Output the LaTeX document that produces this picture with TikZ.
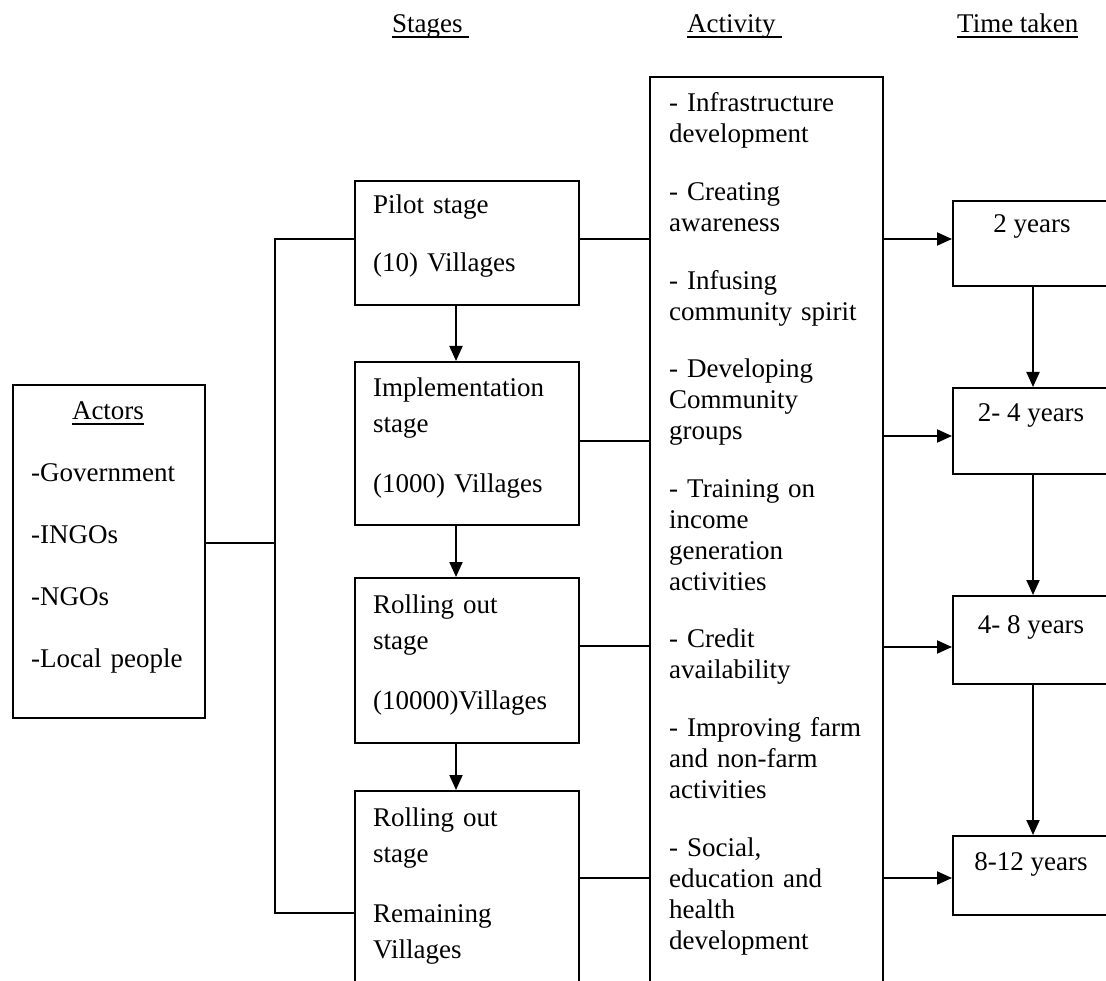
\documentclass[tikz,border=0pt]{standalone}
\usepackage{fontspec}
\setmainfont{Liberation Serif}
\usetikzlibrary{arrows.meta}
\newcommand{\hdline}[1]{\setbox0\hbox{#1}\rlap{\rule[-5.5pt]{\wd0}{2pt}}\box0}
\tikzset{
    frame/.style={draw, line width=2pt, inner sep=0pt, anchor=north west},
    head/.style={inner sep=0pt, font=\fontsize{27}{31}\selectfont},
    stagetext/.style={anchor=base west, inner sep=0pt, text width=200pt, align=left, font=\fontsize{27}{36}\selectfont},
    acttext/.style={anchor=base west, inner sep=0pt, text width=210pt, align=left, font=\fontsize{27}{31}\selectfont},
    link/.style={line width=2pt},
    flow/.style={line width=2pt, -{Triangle[length=15pt,width=13pt]}}
}
\begin{document}
\begin{tikzpicture}
  [
    x = 1pt,
    y = -1pt,
  ]
  \useasboundingbox (0,0) rectangle (1106,981);
  \clip (0,0) rectangle (1106,981);

  \node[head, anchor=base west] (hstages) at (392,33) {\hdline{Stages\ }};
  \node[head, anchor=base west] (hactivity) at (687,33) {\hdline{Activity\ }};
  \node[head, anchor=base west] (htime) at (957,33) {\hdline{Time taken}};

  \node[frame, minimum width=192pt, minimum height=333pt] (actors) at (12,384) {};
  \node[head, anchor=base] (actorshead) at (108,420) {\hdline{Actors}};
  \node[stagetext, font=\fontsize{27}{61.7}\selectfont] (actorslist) at (31,482)
    {-Government\\-INGOs\\-NGOs\\-Local people};

  \node[frame, minimum width=224pt, minimum height=124pt] (pilot) at (354,180) {};
  \node[frame, minimum width=224pt, minimum height=163pt] (impl) at (354,361) {};
  \node[frame, minimum width=224pt, minimum height=165pt] (roll) at (354,577) {};
  \node[frame, minimum width=224pt, minimum height=240pt] (rollrest) at (354,790) {};
  \node[stagetext] (pilottext) at (373,214) {Pilot stage\\[22pt](10) Villages};
  \node[stagetext] (impltext) at (373,397) {Implementation\\stage\\[24pt](1000) Villages};
  \node[stagetext] (rolltext) at (373,613) {Rolling out\\stage\\[24pt](10000)Villages};
  \node[stagetext] (rollresttext) at (373,826) {Rolling out\\stage\\[24pt]Remaining\\Villages};

  \node[frame, minimum width=233pt, minimum height=950pt] (act) at (649,76) {};
  \node[acttext] (acttext) at (669,112)
    {- Infrastructure\\development\\[26.6pt]%
     - Creating\\awareness\\[26.6pt]%
     - Infusing\\community spirit\\[26.6pt]%
     - Developing\\Community\\groups\\[26.6pt]%
     - Training on\\income\\generation\\activities\\[26.6pt]%
     - Credit\\availability\\[26.6pt]%
     - Improving farm\\and non-farm\\activities\\[26.6pt]%
     - Social,\\education and\\health\\development};

  \node[frame, minimum width=160pt, minimum height=85pt] (t1) at (952,200) {};
  \node[frame, minimum width=160pt, minimum height=86pt] (t2) at (952,387) {};
  \node[frame, minimum width=160pt, minimum height=88pt] (t3) at (952,595) {};
  \node[frame, minimum width=160pt, minimum height=79pt] (t4) at (952,835) {};
  \node[head, anchor=base] (t1text) at (1032,233) {2 years};
  \node[head, anchor=base] (t2text) at (1031,422) {2- 4 years};
  \node[head, anchor=base] (t3text) at (1031,633) {4- 8 years};
  \node[head, anchor=base] (t4text) at (1031,870) {8-12 years};

  \coordinate (bus) at (275,0);
  \draw[link] (actors.east |- 0,543) -- (bus |- 0,543);
  \draw[link] (pilot.west |- 0,239) -- (bus |- 0,239) -- (bus |- 0,913) -- (rollrest.west |- 0,913);

  \foreach \stg/\tm/\ly/\ay in {pilot/t1/239/239, impl/t2/441/436, roll/t3/646/647, rollrest/t4/878/878}
  {
    \draw[link] (\stg.east |- 0,\ly) -- (act.west |- 0,\ly);
    \draw[flow] (act.east |- 0,\ay) -- (\tm.west |- 0,\ay);
  }
  \foreach \a/\b in {pilot/impl, impl/roll, roll/rollrest}
    \draw[flow] ([xshift=-11pt]\a.south) -- ([xshift=-11pt]\b.north);
  \foreach \a/\b in {t1/t2, t2/t3, t3/t4}
    \draw[flow] (\a.south) -- (\b.north);
\end{tikzpicture}
\end{document}
